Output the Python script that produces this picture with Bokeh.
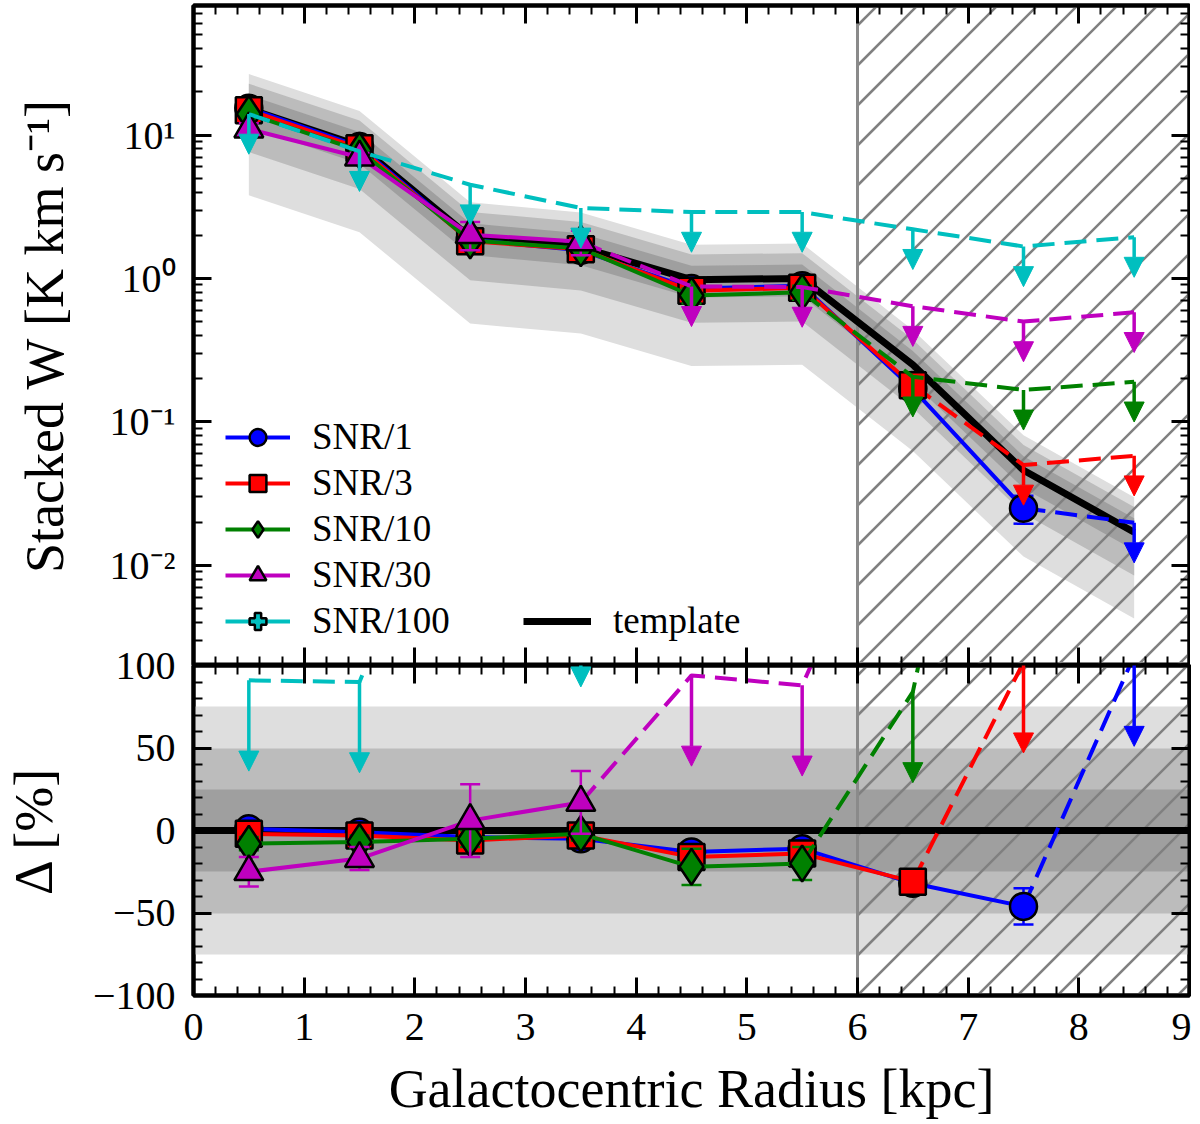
import math
from bokeh.plotting import figure
from bokeh.layouts import column
from bokeh.models import (LinearAxis, LogAxis, SingleIntervalTicker, LogTicker,
                          CustomJSTickFormatter, Legend, LegendItem, Arrow,
                          NormalHead, ColumnDataSource)
from bokeh.embed import file_html
from bokeh.resources import INLINE

# ---------------- data ----------------
radius = [0.5, 1.5, 2.5, 3.5, 4.5, 5.5, 6.5, 7.5, 8.5]
template_w = [15.2, 8.4, 1.94, 1.65, 0.98, 1.00, 0.25, 0.046, 0.017]
band_fractions = [0.75, 0.50, 0.25]
hatch_start = 6.0

labels = ["SNR/1", "SNR/3", "SNR/10", "SNR/30", "SNR/100"]

# top panel: stacked W detections, errors, and upper limits
snr1_w = [15.4, 8.3, 1.86, 1.57, 0.85, 0.89, 0.17, 0.025]
snr1_w_err = [0.6, 0.3, 0.08, 0.07, 0.04, 0.04, 0.012, 0.0055]
snr1_w_lim = [0.0198]

snr3_w = [14.9, 8.1, 1.82, 1.60, 0.82, 0.86, 0.18]
snr3_w_err = [0.7, 0.35, 0.10, 0.08, 0.05, 0.05, 0.02]
snr3_w_lim = [0.050, 0.058]

snr10_w = [14.0, 7.8, 1.84, 1.62, 0.76, 0.80]
snr10_w_err = [0.8, 0.4, 0.12, 0.10, 0.09, 0.09]
snr10_w_lim = [0.206, 0.167, 0.19]

snr30_w = [11.0, 7.0, 2.02, 1.80]
snr30_w_err = [1.1, 0.5, 0.45, 0.35]
snr30_w_lim = [0.88, 0.87, 0.64, 0.50, 0.58]

snr100_w = []
snr100_w_err = []
snr100_w_lim = [14.0, 7.7, 4.5, 3.1, 2.9, 2.9, 2.2, 1.67, 1.94]

# bottom panel: relative difference to template [%]
snr1_d = [1, -1, -4, -5, -13, -11, -32, -46]
snr1_d_err = [3, 3, 3, 3, 3, 3, 4, 11]
snr1_d_lim = [106]

snr3_d = [-2, -3, -6, -3, -16, -14, -31]
snr3_d_err = [3, 3, 4, 3, 4, 4, 4]
snr3_d_lim = [102, 245]

snr10_d = [-8, -7, -5, -2, -22, -20]
snr10_d_err = [4, 4, 5, 4, 11, 10]
snr10_d_lim = [84, 400, 1000]

snr30_d = [-25, -17, 6, 17]
snr30_d_err = [9, 7, 22, 19]
snr30_d_lim = [94, 88, 238, 600, 1200]

snr100_d = []
snr100_d_err = []
snr100_d_lim = [91, 90, 257, 142, 196, 196, 800, 3500, 11000]

x_ticks_range = (0, 9)
w_range = (0.002, 80)
d_range = (-100, 100)
d_bands = [75, 50, 25]

# ---------------- styles ----------------
colors = ["#0000ff", "#ff0000", "#008000", "#bf00bf", "#00bfbf"]
markers = ["circle", "square", "diamond", "triangle", "plus"]
msizes = [27, 26, 36, 29, 28]
band_colors = ["#dedede", "#bcbcbc", "#9f9f9f"]
FONT = "Liberation Serif"
TICK_FS = "40px"
LABEL_FS = "54px"
DASH = "22 10"
ARROW_W_FACTOR = 10 ** -0.28
ARROW_D_LEN = 55
OVERLAP = 30
NAN = float("nan")
FRAME_W = 996
FRAME_H1 = 660
FRAME_H2 = 330
HATCH_SPACING = 40   # px between hatch lines (horizontal)
HATCH_COLOR = "#808080"
HATCH_WIDTH = 2.5

series = [
    dict(w=snr1_w, we=snr1_w_err, wl=snr1_w_lim, d=snr1_d, de=snr1_d_err, dl=snr1_d_lim),
    dict(w=snr3_w, we=snr3_w_err, wl=snr3_w_lim, d=snr3_d, de=snr3_d_err, dl=snr3_d_lim),
    dict(w=snr10_w, we=snr10_w_err, wl=snr10_w_lim, d=snr10_d, de=snr10_d_err, dl=snr10_d_lim),
    dict(w=snr30_w, we=snr30_w_err, wl=snr30_w_lim, d=snr30_d, de=snr30_d_err, dl=snr30_d_lim),
    dict(w=snr100_w, we=snr100_w_err, wl=snr100_w_lim, d=snr100_d, de=snr100_d_err, dl=snr100_d_lim),
]

blank_fmt = CustomJSTickFormatter(code="return '';")


def style_axis(ax, show_labels):
    ax.major_tick_in = 18
    ax.major_tick_out = 0
    ax.minor_tick_in = 9
    ax.minor_tick_out = 0
    ax.major_tick_line_width = 3
    ax.minor_tick_line_width = 2
    ax.axis_line_width = 4
    ax.major_tick_line_color = "black"
    ax.minor_tick_line_color = "black"
    ax.axis_line_color = "black"
    if show_labels:
        ax.major_label_text_font = FONT
        ax.major_label_text_font_size = TICK_FS
        ax.major_label_text_color = "black"
        ax.major_label_standoff = 18
        ax.axis_label_text_font = FONT
        ax.axis_label_text_font_size = LABEL_FS
        ax.axis_label_text_font_style = "normal"
        ax.axis_label_text_color = "black"
    else:
        ax.formatter = blank_fmt
        ax.major_label_text_font_size = "1px"
        ax.major_label_text_alpha = 0
        ax.major_label_standoff = 0
        ax.axis_label = None


def x_ticker():
    return SingleIntervalTicker(interval=1, num_minor_ticks=5)


def hatch_rays(p, frame_h, y_from_px):
    """45-degree '/' hatch over x >= hatch_start: rays starting on the left or bottom
    edge of the hatched region, spaced HATCH_SPACING px apart."""
    px_per_x = FRAME_W / (x_ticks_range[1] - x_ticks_range[0])
    x0_px = (hatch_start - x_ticks_range[0]) * px_per_x
    k_min = -int(math.ceil(frame_h / HATCH_SPACING))
    k_max = int(math.ceil((FRAME_W - x0_px) / HATCH_SPACING))
    xs, ys = [], []
    for k in range(k_min, k_max + 1):
        xb = x0_px + k * HATCH_SPACING
        if xb < x0_px:
            xs.append(hatch_start)
            ys.append(y_from_px(x0_px - xb))
        else:
            xs.append(x_ticks_range[0] + xb / px_per_x)
            ys.append(y_from_px(0))
    p.ray(x=xs, y=ys, length=0, angle=45, angle_units="deg",
          line_color=HATCH_COLOR, line_width=HATCH_WIDTH)


log_fmt = CustomJSTickFormatter(code="""
const sup = {'-':'\u207b','0':'\u2070','1':'\u00b9','2':'\u00b2','3':'\u00b3',
             '4':'\u2074','5':'\u2075','6':'\u2076','7':'\u2077','8':'\u2078','9':'\u2079'};
const e = Math.round(Math.log10(tick));
return '10' + String(e).split('').map(c => sup[c]).join('');
""")

# ---------------- top panel ----------------
p1 = figure(frame_width=FRAME_W, frame_height=FRAME_H1, x_range=x_ticks_range,
            y_range=w_range, y_axis_type="log", output_backend="svg",
            toolbar_location=None,
            min_border_left=192, min_border_right=2, min_border_top=5, min_border_bottom=0,
            background_fill_color="white", border_fill_color="white")
p1.xgrid.visible = False
p1.ygrid.visible = False
p1.outline_line_color = "black"
p1.outline_line_width = 4

p1.xaxis.ticker = x_ticker()
style_axis(p1.xaxis[0], False)
p1.yaxis.ticker = LogTicker(num_minor_ticks=10)
p1.yaxis.formatter = log_fmt
p1.yaxis.axis_label = "Stacked W [K km s\u207b\u00b9]"
style_axis(p1.yaxis[0], True)
p1.yaxis.axis_label_standoff = 32

ax_top = LinearAxis(ticker=x_ticker())
style_axis(ax_top, False)
p1.add_layout(ax_top, "above")
ax_right = LogAxis(ticker=LogTicker(num_minor_ticks=10))
style_axis(ax_right, False)
p1.add_layout(ax_right, "right")

# template bands
for frac, col in zip(band_fractions, band_colors):
    p1.varea(x=radius, y1=[t * (1 - frac) for t in template_w],
             y2=[t * (1 + frac) for t in template_w], fill_color=col, fill_alpha=1)

# hatched region
px_per_decade = FRAME_H1 / math.log10(w_range[1] / w_range[0])
hatch_rays(p1, FRAME_H1, lambda px: w_range[0] * 10 ** (px / px_per_decade))
p1.vspan(x=[hatch_start], line_color="#8a8a8a", line_width=3)

# template line
tmpl_r = p1.line(radius, template_w, line_color="black", line_width=7)

# ---------------- bottom panel ----------------
p2 = figure(frame_width=FRAME_W, frame_height=FRAME_H2, x_range=x_ticks_range,
            y_range=d_range, output_backend="svg", toolbar_location=None,
            min_border_left=192, min_border_right=2, min_border_top=OVERLAP,
            min_border_bottom=0,
            background_fill_color="white", border_fill_color="white",
            border_fill_alpha=0)
p2.styles = {"margin-top": "-%dpx" % OVERLAP}
p2.xgrid.visible = False
p2.ygrid.visible = False
p2.outline_line_color = "black"
p2.outline_line_width = 4
p2.xaxis.ticker = x_ticker()
p2.xaxis.axis_label = "Galactocentric Radius [kpc]"
style_axis(p2.xaxis[0], True)
p2.xaxis.major_label_standoff = 18
p2.xaxis.axis_label_standoff = 16
p2.yaxis.ticker = SingleIntervalTicker(interval=50, num_minor_ticks=5)
p2.yaxis.major_label_overrides = {-100: "\u2212100", -50: "\u221250"}
p2.yaxis.axis_label = "\u0394 [%]"
style_axis(p2.yaxis[0], True)
p2.yaxis.axis_label_standoff = 26

ax_top2 = LinearAxis(ticker=x_ticker())
style_axis(ax_top2, False)
p2.add_layout(ax_top2, "above")
ax_right2 = LinearAxis(ticker=SingleIntervalTicker(interval=50, num_minor_ticks=5))
style_axis(ax_right2, False)
p2.add_layout(ax_right2, "right")

for half, col in zip(d_bands, band_colors):
    p2.hstrip(y0=[-half], y1=[half], fill_color=col, fill_alpha=1, line_alpha=0)
px_per_pct = FRAME_H2 / (d_range[1] - d_range[0])
hatch_rays(p2, FRAME_H2, lambda px: d_range[0] + px / px_per_pct)
p2.vspan(x=[hatch_start], line_color="#8a8a8a", line_width=3)
p2.hspan(y=[0], line_color="black", line_width=7)


# ---------------- series ----------------
def draw_series(p, vals, errs, lims, color, marker, msize, arrow_end):
    n = len(vals)
    det_r = radius[:n]
    lim_r = radius[n:]
    if n > 0:
        p.line(det_r, vals, line_color=color, line_width=4)
    dash_r = radius[max(n - 1, 0):]
    dash_v = ([vals[-1]] if n > 0 else []) + list(lims)
    p.line(dash_r, dash_v, line_color=color, line_width=4, line_dash=DASH)
    if n > 0:
        lo = [v - e for v, e in zip(vals, errs)]
        hi = [v + e for v, e in zip(vals, errs)]
        p.segment(x0=det_r, y0=lo, x1=det_r, y1=hi, line_color=color, line_width=2.5)
        p.scatter(det_r + det_r, lo + hi, marker="dash", size=20, line_color=color,
                  line_width=2.5)
        p.scatter(det_r, vals, marker=marker, size=msize, fill_color=color,
                  line_color="black", line_width=2.5)
    src = ColumnDataSource(dict(x=lim_r, y0=list(lims), y1=[arrow_end(v) for v in lims]))
    p.add_layout(Arrow(x_start="x", y_start="y0", x_end="x", y_end="y1", source=src,
                       line_color=color, line_width=3.5,
                       end=NormalHead(size=20, fill_color=color, line_color=color,
                                      line_width=1)))


for s, col, mk, ms in zip(series, colors, markers, msizes):
    draw_series(p1, s["w"], s["we"], s["wl"], col, mk, ms, lambda v: v * ARROW_W_FACTOR)
    draw_series(p2, s["d"], s["de"], s["dl"], col, mk, ms, lambda v: v - ARROW_D_LEN)

# ---------------- legends (legend-only renderers hold a NaN so nothing is plotted) ---
items = []
for lab, col, mk, ms in zip(labels, colors, markers, msizes):
    lr = p1.line(x=radius[:1], y=[NAN], line_color=col, line_width=4)
    sr = p1.scatter(x=radius[:1], y=[NAN], marker=mk, size=ms, fill_color=col,
                    line_color="black", line_width=2.5)
    items.append(LegendItem(label=lab, renderers=[lr, sr]))

leg = Legend(items=items, location=(32, 23), glyph_width=65, glyph_height=42,
             label_standoff=22, spacing=3, padding=0, margin=0,
             label_text_font=FONT, label_text_font_size="37px", label_text_color="black",
             background_fill_alpha=0, border_line_alpha=0)
p1.add_layout(leg)

leg2 = Legend(items=[LegendItem(label="template", renderers=[tmpl_r])],
              location=(330, 23), glyph_width=68, glyph_height=42, label_standoff=22,
              padding=0, margin=0, label_text_font=FONT, label_text_font_size="37px",
              label_text_color="black",
              background_fill_alpha=0, border_line_alpha=0)
p1.add_layout(leg2)

layout = column(p1, p2, spacing=0)
open("out.html", "w").write(file_html(layout, INLINE))
